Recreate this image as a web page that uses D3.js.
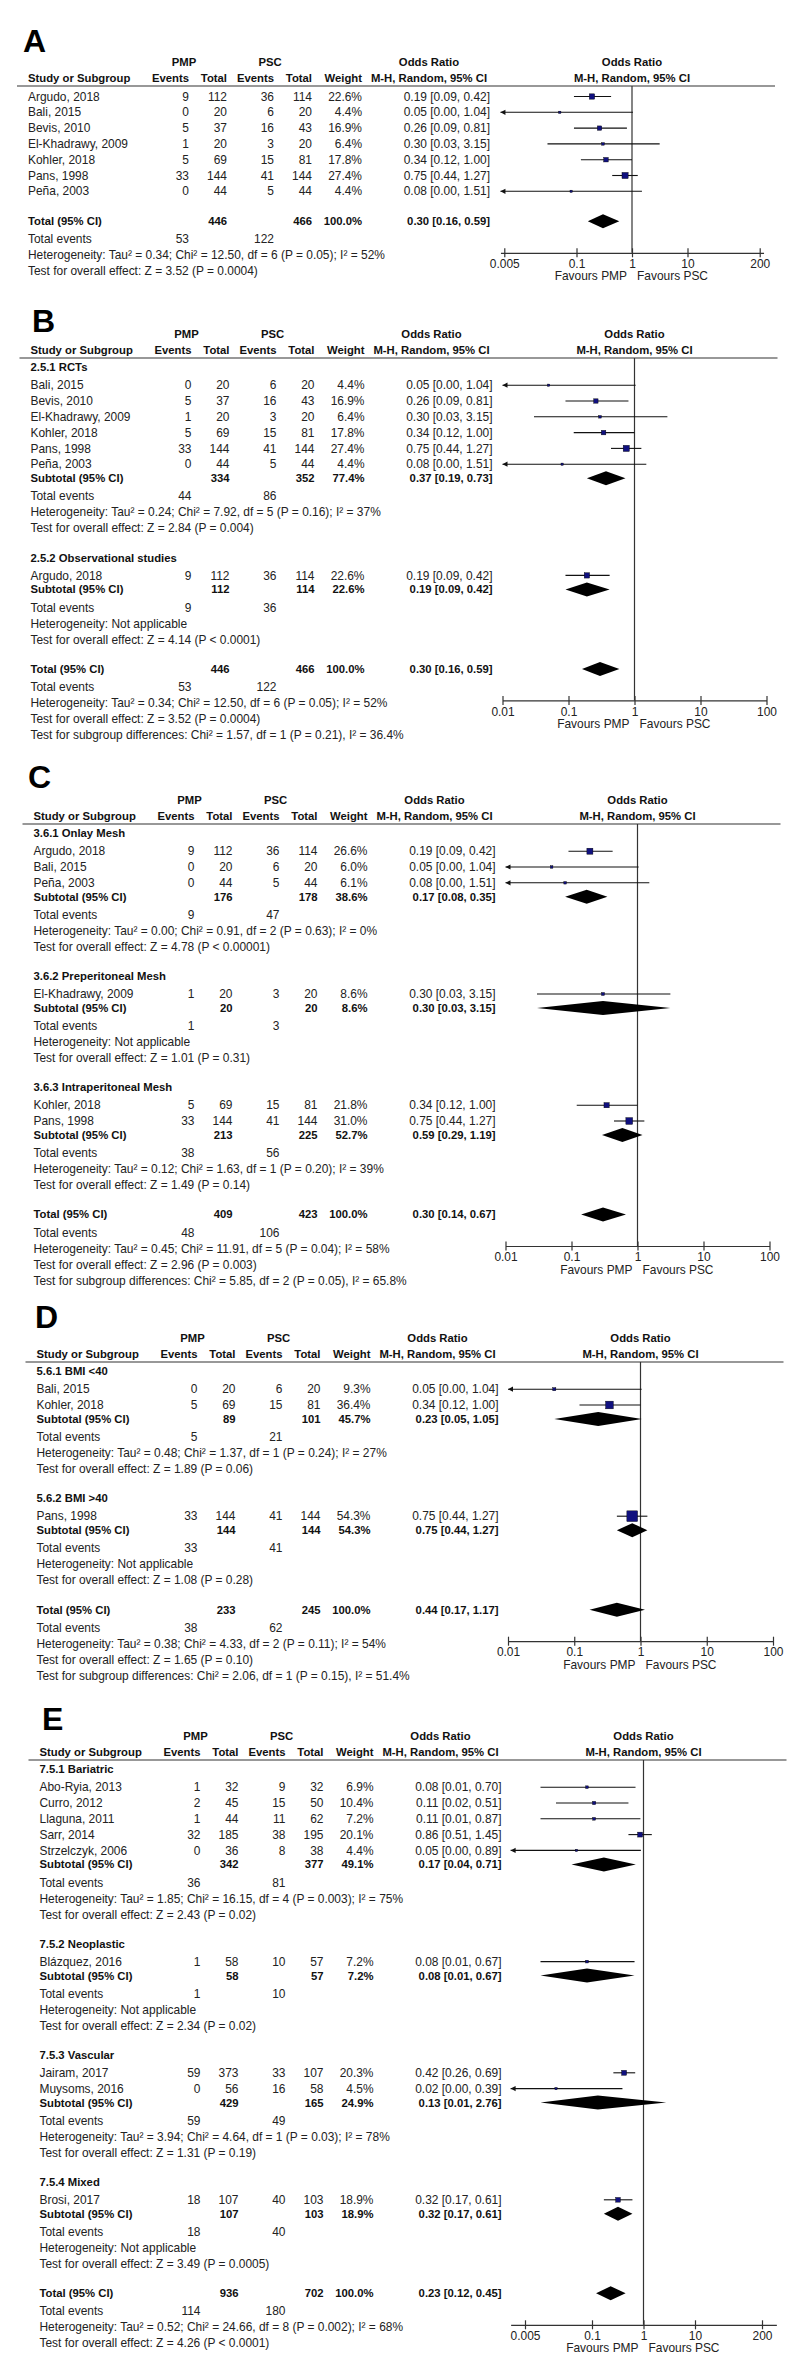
<!DOCTYPE html>
<html>
<head>
<meta charset="utf-8">
<script src="https://cdn.jsdelivr.net/npm/d3@7"></script>
<style>
  body { margin: 0; background: #fff; }
  svg text { font-family: "Liberation Sans", Arial, sans-serif; font-size: 11.95px; fill: #222; }
  svg text.b { font-weight: bold; font-size: 11.3px; fill: #111; }
  svg text.letter { font-weight: bold; font-size: 32px; fill: #000; }
</style>
</head>
<body>
<div id="chart"></div>
<script>
// axis ticks
const ticksWide = [0.005, 0.1, 1, 10, 200];
const ticksNarrow = [0.01, 0.1, 1, 10, 100];
const tickLabelsWide = ["0.005", "0.1", "1", "10", "200"];
const tickLabelsNarrow = ["0.01", "0.1", "1", "10", "100"];

// row codes: h = subgroup heading, s = study, sub = subtotal, tot = overall total,
// ev = total events, n = note line
// s:   [code, name, pmpEvents, pmpTotal, pscEvents, pscTotal, weight, or, lo, hi]
// sub: [code, label, pmpTotal, pscTotal, weight, or, lo, hi]
const rowsA = [
  ["s", "Argudo, 2018", 9, 112, 36, 114, 22.6, 0.19, 0.09, 0.42],
  ["s", "Bali, 2015", 0, 20, 6, 20, 4.4, 0.05, 0.00, 1.04],
  ["s", "Bevis, 2010", 5, 37, 16, 43, 16.9, 0.26, 0.09, 0.81],
  ["s", "El-Khadrawy, 2009", 1, 20, 3, 20, 6.4, 0.30, 0.03, 3.15],
  ["s", "Kohler, 2018", 5, 69, 15, 81, 17.8, 0.34, 0.12, 1.00],
  ["s", "Pans, 1998", 33, 144, 41, 144, 27.4, 0.75, 0.44, 1.27],
  ["s", "Peña, 2003", 0, 44, 5, 44, 4.4, 0.08, 0.00, 1.51],
  ["tot", "Total (95% CI)", 446, 466, 100.0, 0.30, 0.16, 0.59],
  ["ev", 53, 122],
  ["n", "Heterogeneity: Tau² = 0.34; Chi² = 12.50, df = 6 (P = 0.05); I² = 52%"],
  ["n", "Test for overall effect: Z = 3.52 (P = 0.0004)"]
];

const rowsB = [
  ["h", "2.5.1 RCTs"],
  ["s", "Bali, 2015", 0, 20, 6, 20, 4.4, 0.05, 0.00, 1.04],
  ["s", "Bevis, 2010", 5, 37, 16, 43, 16.9, 0.26, 0.09, 0.81],
  ["s", "El-Khadrawy, 2009", 1, 20, 3, 20, 6.4, 0.30, 0.03, 3.15],
  ["s", "Kohler, 2018", 5, 69, 15, 81, 17.8, 0.34, 0.12, 1.00],
  ["s", "Pans, 1998", 33, 144, 41, 144, 27.4, 0.75, 0.44, 1.27],
  ["s", "Peña, 2003", 0, 44, 5, 44, 4.4, 0.08, 0.00, 1.51],
  ["sub", "Subtotal (95% CI)", 334, 352, 77.4, 0.37, 0.19, 0.73],
  ["ev", 44, 86],
  ["n", "Heterogeneity: Tau² = 0.24; Chi² = 7.92, df = 5 (P = 0.16); I² = 37%"],
  ["n", "Test for overall effect: Z = 2.84 (P = 0.004)"],
  ["h", "2.5.2 Observational studies"],
  ["s", "Argudo, 2018", 9, 112, 36, 114, 22.6, 0.19, 0.09, 0.42],
  ["sub", "Subtotal (95% CI)", 112, 114, 22.6, 0.19, 0.09, 0.42],
  ["ev", 9, 36],
  ["n", "Heterogeneity: Not applicable"],
  ["n", "Test for overall effect: Z = 4.14 (P < 0.0001)"],
  ["tot", "Total (95% CI)", 446, 466, 100.0, 0.30, 0.16, 0.59],
  ["ev", 53, 122],
  ["n", "Heterogeneity: Tau² = 0.34; Chi² = 12.50, df = 6 (P = 0.05); I² = 52%"],
  ["n", "Test for overall effect: Z = 3.52 (P = 0.0004)"],
  ["n", "Test for subgroup differences: Chi² = 1.57, df = 1 (P = 0.21), I² = 36.4%"]
];

const rowsC = [
  ["h", "3.6.1 Onlay Mesh"],
  ["s", "Argudo, 2018", 9, 112, 36, 114, 26.6, 0.19, 0.09, 0.42],
  ["s", "Bali, 2015", 0, 20, 6, 20, 6.0, 0.05, 0.00, 1.04],
  ["s", "Peña, 2003", 0, 44, 5, 44, 6.1, 0.08, 0.00, 1.51],
  ["sub", "Subtotal (95% CI)", 176, 178, 38.6, 0.17, 0.08, 0.35],
  ["ev", 9, 47],
  ["n", "Heterogeneity: Tau² = 0.00; Chi² = 0.91, df = 2 (P = 0.63); I² = 0%"],
  ["n", "Test for overall effect: Z = 4.78 (P < 0.00001)"],
  ["h", "3.6.2 Preperitoneal Mesh"],
  ["s", "El-Khadrawy, 2009", 1, 20, 3, 20, 8.6, 0.30, 0.03, 3.15],
  ["sub", "Subtotal (95% CI)", 20, 20, 8.6, 0.30, 0.03, 3.15],
  ["ev", 1, 3],
  ["n", "Heterogeneity: Not applicable"],
  ["n", "Test for overall effect: Z = 1.01 (P = 0.31)"],
  ["h", "3.6.3 Intraperitoneal Mesh"],
  ["s", "Kohler, 2018", 5, 69, 15, 81, 21.8, 0.34, 0.12, 1.00],
  ["s", "Pans, 1998", 33, 144, 41, 144, 31.0, 0.75, 0.44, 1.27],
  ["sub", "Subtotal (95% CI)", 213, 225, 52.7, 0.59, 0.29, 1.19],
  ["ev", 38, 56],
  ["n", "Heterogeneity: Tau² = 0.12; Chi² = 1.63, df = 1 (P = 0.20); I² = 39%"],
  ["n", "Test for overall effect: Z = 1.49 (P = 0.14)"],
  ["tot", "Total (95% CI)", 409, 423, 100.0, 0.30, 0.14, 0.67],
  ["ev", 48, 106],
  ["n", "Heterogeneity: Tau² = 0.45; Chi² = 11.91, df = 5 (P = 0.04); I² = 58%"],
  ["n", "Test for overall effect: Z = 2.96 (P = 0.003)"],
  ["n", "Test for subgroup differences: Chi² = 5.85, df = 2 (P = 0.05), I² = 65.8%"]
];

const rowsD = [
  ["h", "5.6.1 BMI <40"],
  ["s", "Bali, 2015", 0, 20, 6, 20, 9.3, 0.05, 0.00, 1.04],
  ["s", "Kohler, 2018", 5, 69, 15, 81, 36.4, 0.34, 0.12, 1.00],
  ["sub", "Subtotal (95% CI)", 89, 101, 45.7, 0.23, 0.05, 1.05],
  ["ev", 5, 21],
  ["n", "Heterogeneity: Tau² = 0.48; Chi² = 1.37, df = 1 (P = 0.24); I² = 27%"],
  ["n", "Test for overall effect: Z = 1.89 (P = 0.06)"],
  ["h", "5.6.2 BMI >40"],
  ["s", "Pans, 1998", 33, 144, 41, 144, 54.3, 0.75, 0.44, 1.27],
  ["sub", "Subtotal (95% CI)", 144, 144, 54.3, 0.75, 0.44, 1.27],
  ["ev", 33, 41],
  ["n", "Heterogeneity: Not applicable"],
  ["n", "Test for overall effect: Z = 1.08 (P = 0.28)"],
  ["tot", "Total (95% CI)", 233, 245, 100.0, 0.44, 0.17, 1.17],
  ["ev", 38, 62],
  ["n", "Heterogeneity: Tau² = 0.38; Chi² = 4.33, df = 2 (P = 0.11); I² = 54%"],
  ["n", "Test for overall effect: Z = 1.65 (P = 0.10)"],
  ["n", "Test for subgroup differences: Chi² = 2.06, df = 1 (P = 0.15), I² = 51.4%"]
];

const rowsE = [
  ["h", "7.5.1 Bariatric"],
  ["s", "Abo-Ryia, 2013", 1, 32, 9, 32, 6.9, 0.08, 0.01, 0.70],
  ["s", "Curro, 2012", 2, 45, 15, 50, 10.4, 0.11, 0.02, 0.51],
  ["s", "Llaguna, 2011", 1, 44, 11, 62, 7.2, 0.11, 0.01, 0.87],
  ["s", "Sarr, 2014", 32, 185, 38, 195, 20.1, 0.86, 0.51, 1.45],
  ["s", "Strzelczyk, 2006", 0, 36, 8, 38, 4.4, 0.05, 0.00, 0.89],
  ["sub", "Subtotal (95% CI)", 342, 377, 49.1, 0.17, 0.04, 0.71],
  ["ev", 36, 81],
  ["n", "Heterogeneity: Tau² = 1.85; Chi² = 16.15, df = 4 (P = 0.003); I² = 75%"],
  ["n", "Test for overall effect: Z = 2.43 (P = 0.02)"],
  ["h", "7.5.2 Neoplastic"],
  ["s", "Blázquez, 2016", 1, 58, 10, 57, 7.2, 0.08, 0.01, 0.67],
  ["sub", "Subtotal (95% CI)", 58, 57, 7.2, 0.08, 0.01, 0.67],
  ["ev", 1, 10],
  ["n", "Heterogeneity: Not applicable"],
  ["n", "Test for overall effect: Z = 2.34 (P = 0.02)"],
  ["h", "7.5.3 Vascular"],
  ["s", "Jairam, 2017", 59, 373, 33, 107, 20.3, 0.42, 0.26, 0.69],
  ["s", "Muysoms, 2016", 0, 56, 16, 58, 4.5, 0.02, 0.00, 0.39],
  ["sub", "Subtotal (95% CI)", 429, 165, 24.9, 0.13, 0.01, 2.76],
  ["ev", 59, 49],
  ["n", "Heterogeneity: Tau² = 3.94; Chi² = 4.64, df = 1 (P = 0.03); I² = 78%"],
  ["n", "Test for overall effect: Z = 1.31 (P = 0.19)"],
  ["h", "7.5.4 Mixed"],
  ["s", "Brosi, 2017", 18, 107, 40, 103, 18.9, 0.32, 0.17, 0.61],
  ["sub", "Subtotal (95% CI)", 107, 103, 18.9, 0.32, 0.17, 0.61],
  ["ev", 18, 40],
  ["n", "Heterogeneity: Not applicable"],
  ["n", "Test for overall effect: Z = 3.49 (P = 0.0005)"],
  ["tot", "Total (95% CI)", 936, 702, 100.0, 0.23, 0.12, 0.45],
  ["ev", 114, 180],
  ["n", "Heterogeneity: Tau² = 0.52; Chi² = 24.66, df = 8 (P = 0.002); I² = 68%"],
  ["n", "Test for overall effect: Z = 4.26 (P < 0.0001)"]
];

// layout of each panel (page positions, not data)
const panels = [
  { letter: "A", rows: rowsA, lineY: 86,   letterX: 23, letterY: 52,   dx: 0,    decade: 55.5,  span: 2.37, ticks: ticksWide,   labels: tickLabelsWide },
  { letter: "B", rows: rowsB, lineY: 358,  letterX: 32, letterY: 332,  dx: 2.5,  decade: 66,    span: 2,    ticks: ticksNarrow, labels: tickLabelsNarrow },
  { letter: "C", rows: rowsC, lineY: 824,  letterX: 28, letterY: 788,  dx: 5.5,  decade: 66,    span: 2,    ticks: ticksNarrow, labels: tickLabelsNarrow },
  { letter: "D", rows: rowsD, lineY: 1362, letterX: 35, letterY: 1328, dx: 8.5,  decade: 66.25, span: 2,    ticks: ticksNarrow, labels: tickLabelsNarrow },
  { letter: "E", rows: rowsE, lineY: 1760, letterX: 42, letterY: 1730, dx: 11.5, decade: 51.5,  span: 2.58, ticks: ticksWide,   labels: tickLabelsWide }
];

// column x positions (panel A, others shifted by dx)
const col = { study: 28, pmpEv: 189, pmpTot: 227, pscEv: 274, pscTot: 312, weight: 362, orText: 490,
              pmpHead: 184, pscHead: 270, orHead: 429, one: 632, lineL: 17, lineR: 775 };

// vertical spacing between consecutive row kinds
const gaps = {
  "line>h": 9.5, "line>s": 10.5,
  "h>s": 17.7, "s>s": 15.8, "s>sub": 14, "s>tot": 30,
  "sub>ev": 18, "tot>ev": 18, "ev>n": 16, "n>n": 16, "n>h": 29.5, "n>tot": 29.5
};

const squareColor = "#10107f";
const fmt2 = d3.format(".2f");
const ciText = (o, l, h) => `${fmt2(o)} [${fmt2(l)}, ${fmt2(h)}]`;
const sqSize = w => 1.5 + 0.17 * w;

const svg = d3.select("#chart").append("svg")
  .attr("width", 800)
  .attr("height", 2354);
svg.append("rect").attr("width", 800).attr("height", 2354).attr("fill", "#fff");

function txt(g, x, y, s, anchor, bold) {
  return g.append("text")
    .attr("x", x).attr("y", y).attr("dy", "0.35em")
    .attr("text-anchor", anchor || "start")
    .attr("class", bold ? "b" : null)
    .text(s);
}

panels.forEach(p => {
  svg.append("text").attr("class", "letter")
    .attr("x", p.letterX).attr("y", p.letterY).text(p.letter);

  const g = svg.append("g").attr("transform", `translate(${p.dx},0)`);

  // row positions
  let prev = "line", y = p.lineY;
  const rows = p.rows.map(r => {
    y += gaps[prev + ">" + r[0]];
    prev = r[0];
    return { r, y };
  });
  const totY = rows.find(d => d.r[0] === "tot").y;
  const axisY = totY + 31.5;

  const lo = Math.pow(10, -p.span), hi = Math.pow(10, p.span);
  const x = d3.scaleLog()
    .domain([lo, hi])
    .range([col.one - p.span * p.decade, col.one + p.span * p.decade]);

  // header
  const headY = p.lineY - 8, groupY = p.lineY - 24;
  txt(g, col.pmpHead, groupY, "PMP", "middle", true);
  txt(g, col.pscHead, groupY, "PSC", "middle", true);
  txt(g, col.orHead, groupY, "Odds Ratio", "middle", true);
  txt(g, col.one, groupY, "Odds Ratio", "middle", true);
  txt(g, col.study, headY, "Study or Subgroup", "start", true);
  txt(g, col.pmpEv, headY, "Events", "end", true);
  txt(g, col.pmpTot, headY, "Total", "end", true);
  txt(g, col.pscEv, headY, "Events", "end", true);
  txt(g, col.pscTot, headY, "Total", "end", true);
  txt(g, col.weight, headY, "Weight", "end", true);
  txt(g, col.orHead, headY, "M-H, Random, 95% CI", "middle", true);
  txt(g, col.one, headY, "M-H, Random, 95% CI", "middle", true);

  g.append("line")
    .attr("x1", col.lineL).attr("x2", col.lineR)
    .attr("y1", p.lineY).attr("y2", p.lineY)
    .attr("stroke", "#333").attr("stroke-width", 1.2);

  // table text
  rows.forEach(({ r, y }) => {
    const k = r[0];
    if (k === "h") txt(g, col.study, y, r[1], "start", true);
    if (k === "n") txt(g, col.study, y, r[1]);
    if (k === "ev") {
      txt(g, col.study, y, "Total events");
      txt(g, col.pmpEv, y, r[1], "end");
      txt(g, col.pscEv, y, r[2], "end");
    }
    if (k === "s") {
      txt(g, col.study, y, r[1]);
      txt(g, col.pmpEv, y, r[2], "end");
      txt(g, col.pmpTot, y, r[3], "end");
      txt(g, col.pscEv, y, r[4], "end");
      txt(g, col.pscTot, y, r[5], "end");
      txt(g, col.weight, y, r[6].toFixed(1) + "%", "end");
      txt(g, col.orText, y, ciText(r[7], r[8], r[9]), "end");
    }
    if (k === "sub" || k === "tot") {
      txt(g, col.study, y, r[1], "start", true);
      txt(g, col.pmpTot, y, r[2], "end", true);
      txt(g, col.pscTot, y, r[3], "end", true);
      txt(g, col.weight, y, r[4].toFixed(1) + "%", "end", true);
      txt(g, col.orText, y, ciText(r[5], r[6], r[7]), "end", true);
    }
  });

  // line of no effect
  g.append("line")
    .attr("x1", x(1)).attr("x2", x(1))
    .attr("y1", p.lineY).attr("y2", axisY)
    .attr("stroke", "#333").attr("stroke-width", 1.2);

  // study CIs
  const studies = rows.filter(d => d.r[0] === "s");
  const plot = g.append("g");
  plot.selectAll(".ci").data(studies).enter().append("line")
    .attr("x1", d => x(Math.max(d.r[8], lo)))
    .attr("x2", d => x(Math.min(d.r[9], hi)))
    .attr("y1", d => d.y).attr("y2", d => d.y)
    .attr("stroke", "#111").attr("stroke-width", 1.1);

  plot.selectAll(".arrow").data(studies.filter(d => d.r[8] < lo)).enter().append("path")
    .attr("d", d => {
      const x0 = x(lo);
      return `M${x0},${d.y}L${x0 + 5},${d.y - 2.6}L${x0 + 5},${d.y + 2.6}Z`;
    })
    .attr("fill", "#111");

  plot.selectAll(".sq").data(studies).enter().append("rect")
    .attr("x", d => x(d.r[7]) - sqSize(d.r[6]) / 2)
    .attr("y", d => d.y - sqSize(d.r[6]) / 2)
    .attr("width", d => sqSize(d.r[6]))
    .attr("height", d => sqSize(d.r[6]))
    .attr("fill", squareColor)
    .attr("stroke", "#000").attr("stroke-width", 0.4);

  // pooled diamonds
  const pooled = rows.filter(d => d.r[0] === "sub" || d.r[0] === "tot");
  plot.selectAll(".dia").data(pooled).enter().append("path")
    .attr("d", d => {
      const c = x(d.r[5]), l = x(d.r[6]), h = x(d.r[7]);
      return `M${l},${d.y}L${c},${d.y - 7}L${h},${d.y}L${c},${d.y + 7}Z`;
    })
    .attr("fill", "#000");

  // axis
  const axis = g.append("g")
    .attr("transform", `translate(0,${axisY})`)
    .call(d3.axisBottom(x)
      .tickValues(p.ticks)
      .tickFormat((d, i) => p.labels[i])
      .tickSize(4.5)
      .tickSizeOuter(0));
  axis.select(".domain").attr("stroke", "#333").attr("stroke-width", 1.2);
  axis.selectAll(".tick line").attr("y1", -4.5).attr("stroke", "#333").attr("stroke-width", 1.2);
  axis.selectAll(".tick text").attr("y", 11).attr("dy", "0.35em").attr("fill", null);

  txt(g, x(1) - 5, axisY + 23.5, "Favours PMP", "end");
  txt(g, x(1) + 5, axisY + 23.5, "Favours PSC", "start");
});
</script>
</body>
</html>
